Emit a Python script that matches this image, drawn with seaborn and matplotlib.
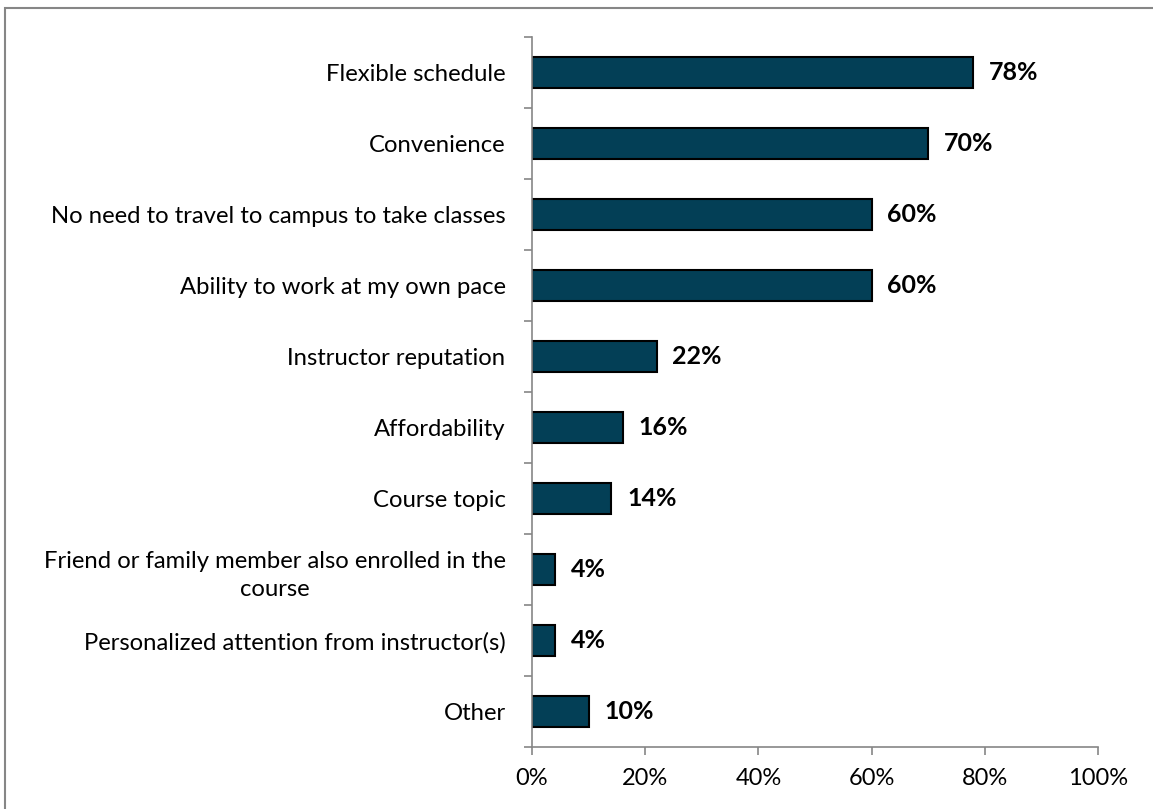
import matplotlib.pyplot as plt
import pandas as pd
import seaborn as sns
from matplotlib.patches import Rectangle
from matplotlib.ticker import FixedLocator, PercentFormatter

reasons = [
    "Flexible schedule",
    "Convenience",
    "No need to travel to campus to take classes",
    "Ability to work at my own pace",
    "Instructor reputation",
    "Affordability",
    "Course topic",
    "Friend or family member also enrolled in the\ncourse",
    "Personalized attention from instructor(s)",
    "Other",
]
shares = [78, 70, 60, 60, 22, 16, 14, 4, 4, 10]
x_ticks = [0, 20, 40, 60, 80, 100]

BAR_COLOR = "#033F56"
AXIS_GRAY = "#868686"
FONT = 17.2


def main() -> None:
    df = pd.DataFrame({"reason": reasons, "share": shares})

    sns.set_theme(style="white")
    plt.rcParams["font.family"] = ["Lato", "DejaVu Sans"]

    fig = plt.figure(figsize=(11.53, 8.09), dpi=100)
    ax = fig.add_axes([0.4614, 0.0766, 0.4909, 0.8776])

    sns.barplot(data=df, y="reason", x="share", orient="h", color=BAR_COLOR,
                width=0.43, edgecolor="black", linewidth=1.5, saturation=1, ax=ax)

    ax.set_xlim(0, 100)
    ax.set_ylim(len(reasons) - 0.5, -0.5)
    ax.xaxis.set_major_locator(FixedLocator(x_ticks))
    ax.xaxis.set_major_formatter(PercentFormatter(decimals=0))
    ax.set_xlabel("")
    ax.set_ylabel("")

    # category boundaries as minor ticks on y, labels at centres
    ax.set_yticks([i + 0.5 for i in range(-1, len(reasons))], minor=True)
    ax.tick_params(axis="y", which="major", left=True, length=0, pad=19,
                   labelsize=FONT, labelcolor="black")
    ax.tick_params(axis="y", which="minor", left=True, length=6, width=1.2,
                   color=AXIS_GRAY, direction="out")
    ax.tick_params(axis="x", bottom=True, length=6, width=1.2, color=AXIS_GRAY,
                   direction="out", labelsize=17, labelcolor="black", pad=9)
    for lbl in ax.get_yticklabels():
        lbl.set_horizontalalignment("right")
        lbl.set_multialignment("center")
        lbl.set_linespacing(1.45)

    for side in ["top", "right"]:
        ax.spines[side].set_visible(False)
    for side in ["left", "bottom"]:
        ax.spines[side].set_color(AXIS_GRAY)
        ax.spines[side].set_linewidth(1.2)

    for i, v in enumerate(shares):
        ax.text(v + 2.8, i, f"{v}%", va="center", ha="left",
                fontsize=18, fontweight="bold", color="black")

    # chart-area border (only top/left edges fall inside the frame)
    fig.patches.append(Rectangle((5 / 1153, -0.05), 1.2, 1.05 - 8 / 809,
                                 transform=fig.transFigure, fill=False,
                                 edgecolor=AXIS_GRAY, linewidth=1.5))

    fig.savefig("out.png", dpi=100)
    plt.close(fig)


if __name__ == "__main__":
    main()
